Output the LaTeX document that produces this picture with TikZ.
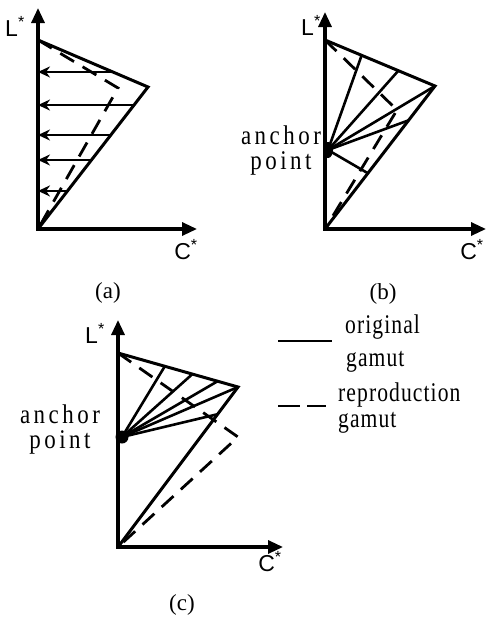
\documentclass[tikz,border=0pt]{standalone}
\usepackage{fontspec}
\setmainfont{Liberation Serif}
\newfontfamily\axfont{Liberation Sans}
\newfontfamily\legfont[FakeStretch=0.8,LetterSpace=4]{Liberation Serif}
\newfontfamily\anchfont[FakeStretch=0.85,LetterSpace=13]{Liberation Serif}
\usetikzlibrary{arrows.meta,calc}

\begin{document}
\begin{tikzpicture}[
  x=1pt, y=-1pt, >=Latex,
  axis/.style={line width=3.2pt, {Triangle[length=15pt,width=13pt]}-{Triangle[length=15pt,width=13pt]}},
  gamut/.style={line width=3pt, line join=miter},
  repro/.style={line width=2.8pt, dash pattern=on 16pt off 10pt},
  ray/.style={line width=2.6pt},
  shiftarr/.style={line width=2.8pt, -{Stealth[length=12pt,width=11pt]}},
  axlab/.style={font=\axfont\fontsize{23}{23}\selectfont, inner sep=0pt},
  anch/.style={font=\anchfont\fontsize{27}{25}\selectfont, align=center, inner sep=0pt},
  leg/.style={font=\legfont\fontsize{27}{27}\selectfont, anchor=base west, inner sep=0pt},
  sublab/.style={font=\fontsize{23}{23}\selectfont, inner sep=0pt}
]
\useasboundingbox (0,0) rectangle (487,622);

% (a) straight shift along L*
\coordinate (aO) at (38,229);
\coordinate (aL) at (38,8);
\coordinate (aC) at (197,229);
\coordinate (aT) at (38,40);
\coordinate (aP) at (148,87);
\coordinate (aR) at (118,88);
\draw[axis] (aL) -- (aO) -- (aC);
\draw[gamut] (aT) -- (aP) -- (aO);
\draw[repro] (aT) -- (aR) -- (aO);
\draw[shiftarr] ($(aT)!0.68!(aP)$) coordinate (s0) -- (aO |- s0);
\foreach \t [count=\i] in {0.127,0.338,0.514,0.732}
  \draw[shiftarr] ($(aP)!\t!(aO)$) coordinate (s\i) -- (aO |- s\i);
\node[axlab] (aLl) at (15,26) {L\textsuperscript{*}};
\node[axlab] (aCl) at (186,250) {C\textsuperscript{*}};
\node[sublab] (capa) at (108,293) {(a)};

% (b) towards one anchor point
\coordinate (bO) at (325,229);
\coordinate (bL) at (325,12);
\coordinate (bC) at (486,229);
\coordinate (bT) at (325,40);
\coordinate (bP) at (435,86);
\coordinate (bR) at (397,110);
\coordinate (bA) at (328,150);
\draw[axis] (bL) -- (bO) -- (bC);
\draw[gamut] (bT) -- (bP) -- (bO);
\draw[repro] (bT) -- (bR) -- (bO);
\draw[ray] (bA) -- ($(bT)!0.333!(bP)$);
\draw[ray] (bA) -- ($(bT)!0.667!(bP)$);
\draw[ray] (bA) -- (bP);
\draw[ray] (bA) -- ($(bP)!0.24!(bO)$);
\draw[ray] (bA) -- ($(bP)!0.61!(bO)$);
\fill (bA) ellipse [x radius=5pt, y radius=8pt];
\node[anch] (bAl) at (281,151) {anchor\\point};
\node[axlab] (bLl) at (311,25) {L\textsuperscript{*}};
\node[axlab] (bCl) at (472,250) {C\textsuperscript{*}};
\node[sublab] (capb) at (383,294) {(b)};

% (c) anchor point, cusp shifted
\coordinate (cO) at (118,547);
\coordinate (cL) at (118,320);
\coordinate (cC) at (283,547);
\coordinate (cT) at (118,353);
\coordinate (cP) at (238,387);
\coordinate (cR) at (238,437);
\coordinate (cA) at (122,437);
\draw[axis] (cL) -- (cO) -- (cC);
\draw[gamut] (cT) -- (cP) -- (cO);
\draw[repro] (cT) -- (cR) -- (cO);
\foreach \t in {0.39,0.62,0.83}
  \draw[ray] (cA) -- ($(cT)!\t!(cP)$);
\draw[ray] (cA) -- (cP);
\draw[ray] (cA) -- ($(cP)!0.17!(cO)$);
\fill (cA) circle [radius=6.5pt];
\node[anch] (cAl) at (60,430) {anchor\\point};
\node[axlab] (cLl) at (95,333) {L\textsuperscript{*}};
\node[axlab] (cCl) at (270,562) {C\textsuperscript{*}};
\node[sublab] (capc) at (182,605) {(c)};

% legend
\coordinate (l1a) at (278,341);
\coordinate (l1b) at (332,341);
\coordinate (l2a) at (278,406);
\coordinate (l2b) at (326,406);
\draw[line width=2.6pt] (l1a) -- (l1b);
\draw[line width=2.8pt, dash pattern=on 22pt off 7pt] (l2a) -- (l2b);
\node[leg] (orig) at (345,333) {original};
\node[leg] (gam1) at (346,366) {gamut};
\node[leg] (repr) at (338,401) {reproduction};
\node[leg] (gam2) at (338,427) {gamut};
\end{tikzpicture}
\end{document}
